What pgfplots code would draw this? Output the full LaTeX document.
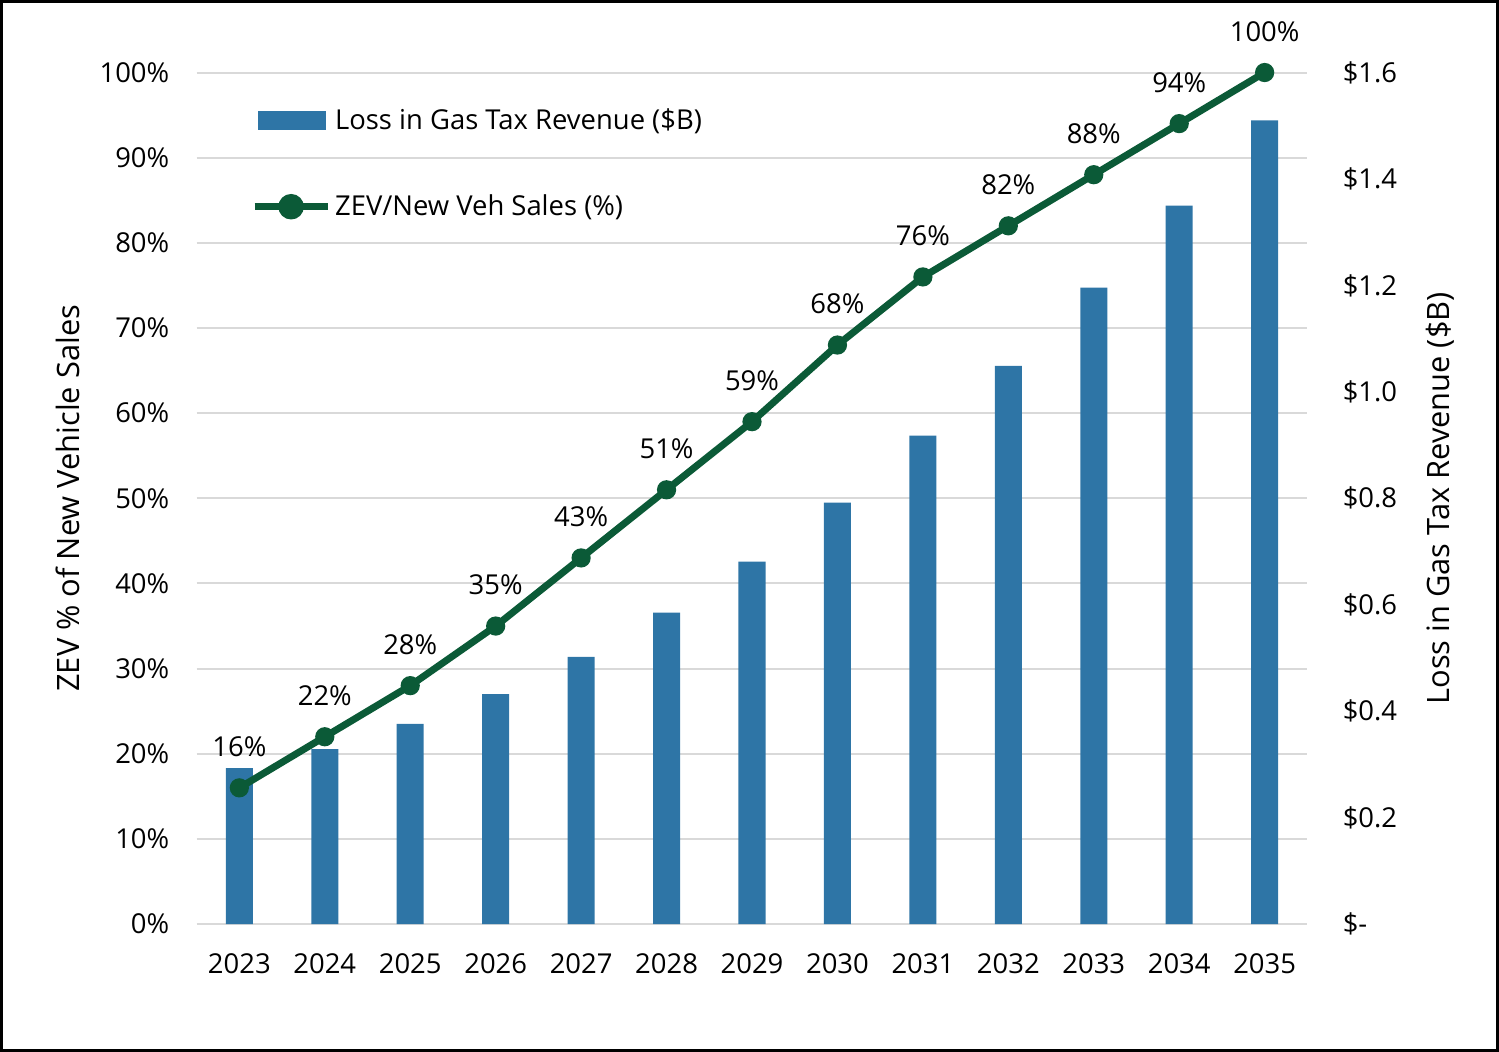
\documentclass[border=0pt]{standalone}
\usepackage{fontspec}
\setmainfont{Open Sans}
\usepackage{pgfplots}
\pgfplotsset{compat=1.18}
\definecolor{barblue}{HTML}{2E75A6}
\definecolor{zevgreen}{HTML}{0B5A37}
\definecolor{gridgray}{HTML}{D9D9D9}
\newcommand{\lab}{\fontsize{13.7}{16}\selectfont}
\newcommand{\axlab}{\fontsize{15.4}{18}\selectfont}

\pgfplotsset{
  base/.style={
    width=555pt, height=425.5pt, scale only axis,
    xmin=-0.5, xmax=12.5,
    axis line style={draw=none},
    tick style={draw=none},
    tick label style={font=\lab, inner sep=0pt},
    /pgf/number format/assume math mode=true,
    clip=false,
  },
}

\begin{document}
\begin{tikzpicture}
% right axis: revenue bars and the grid
\begin{axis}[base,
  axis x line=none,
  axis y line*=right,
  ymin=0, ymax=1.6,
  ytick={0,0.2,...,1.6},
  yticklabels={\$-,\$0.2,\$0.4,\$0.6,\$0.8,\$1.0,\$1.2,\$1.4,\$1.6},
  yticklabel style={anchor=west, xshift=17.5pt},
  extra y ticks={0,0.16,0.32,0.48,0.64,0.8,0.96,1.12,1.28,1.44,1.6},
  extra y tick labels={},
  extra y tick style={ymajorgrids=true, grid style={gridgray, line width=1pt}},
  every axis y label/.style={at={(axis description cs:1,0.5)}, xshift=66.5pt, rotate=90, anchor=center, font=\axlab},
  ylabel={Loss in Gas Tax Revenue (\$B)},
]
\addplot[ybar, bar width=13.5pt, fill=barblue, draw=none] coordinates {
(0,0.293) (1,0.329) (2,0.376) (3,0.432) (4,0.502) (5,0.585) (6,0.681)
(7,0.792) (8,0.918) (9,1.049) (10,1.196) (11,1.350) (12,1.510)
};
\draw[black, line width=1.5pt]
  ([shift={(-97.5pt,-63pt)}]rel axis cs:0,0) rectangle ([shift={(95pt,35.5pt)}]rel axis cs:1,1);
\end{axis}

% left axis: ZEV share line
\begin{axis}[base,
  axis y line*=left,
  ymin=0, ymax=100,
  ytick={0,10,...,100},
  yticklabel={\pgfmathprintnumber{\tick}\%},
  yticklabel style={anchor=east, xshift=-13.5pt},
  xtick={0,...,12},
  xticklabels={2023,2024,2025,2026,2027,2028,2029,2030,2031,2032,2033,2034,2035},
  xticklabel style={anchor=north, yshift=-14.5pt},
  every axis y label/.style={at={(axis description cs:0,0.5)}, xshift=-64.5pt, rotate=90, anchor=center, font=\axlab},
  ylabel={ZEV \% of New Vehicle Sales},
  legend style={at={(rel axis cs:0,1)}, anchor=north west, xshift=27pt, yshift=-16pt,
    draw=none, fill=none, font=\lab, row sep=27pt, inner sep=0pt},
  legend cell align=left,
]
\addlegendimage{legend image code/.code={\fill[barblue] (2pt,-4.5pt) rectangle (35.5pt,4.5pt);}}
\addlegendentry{Loss in Gas Tax Revenue (\$B)}
\addplot[zevgreen, line width=3.5pt, mark=*, mark size=4.3pt,
  mark options={line width=1pt},
  legend image code/.code={\draw[zevgreen, line width=3.5pt] (0pt,0pt) -- (36.5pt,0pt);
    \fill[zevgreen] (18.25pt,0pt) circle (4.6pt);},
  nodes near coords={\pgfmathprintnumber{\pgfplotspointmeta}\%},
  every node near coord/.append style={font=\lab, text=black, anchor=south, inner sep=0pt, yshift=15pt},
  point meta=y] coordinates {
(0,16) (1,22) (2,28) (3,35) (4,43) (5,51) (6,59) (7,68) (8,76) (9,82) (10,88) (11,94) (12,100)
};
\addlegendentry{ZEV/New Veh Sales (\%)}
\end{axis}
\end{tikzpicture}
\end{document}
